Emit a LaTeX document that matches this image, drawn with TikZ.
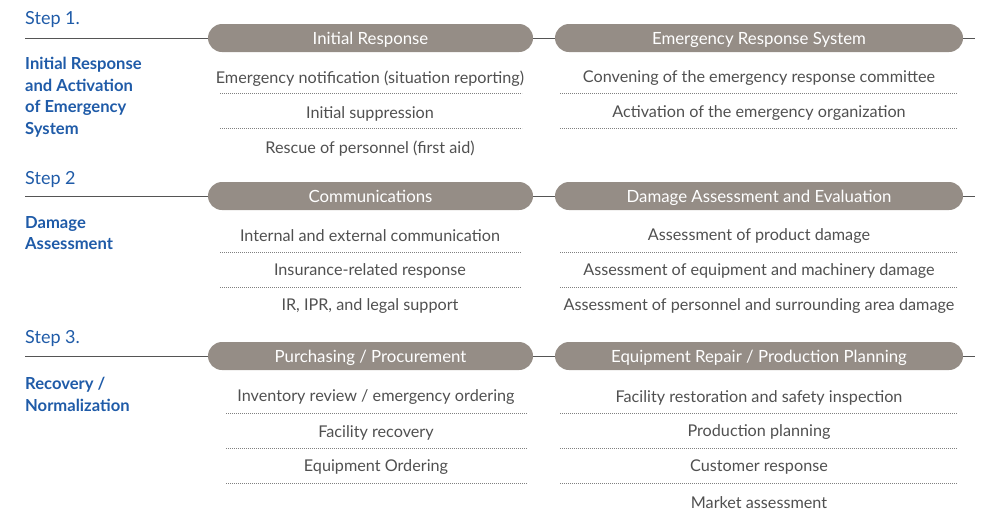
\documentclass[tikz,border=0pt]{standalone}
\usepackage{fontspec}
\setmainfont{Lato}
\usetikzlibrary{positioning}

\definecolor{stepblue}{HTML}{1F5BA8}
\definecolor{pillgray}{HTML}{958D86}
\definecolor{itemgray}{HTML}{505050}
\definecolor{rulegray}{HTML}{555555}

\tikzset{
  pill/.style={fill=pillgray, rounded corners=14pt, minimum height=28pt,
    inner sep=0pt, text=white, text height=12pt, text depth=0pt,
    font=\fontsize{16.8}{16.8}\selectfont},
  item/.style={text=itemgray, inner sep=0pt, font=\fontsize{16.2}{16.2}\selectfont},
  steptitle/.style={text=stepblue, anchor=west, inner sep=0pt,
    font=\fontsize{18}{18}\selectfont},
  stepnote/.style={text=stepblue, anchor=north west, inner sep=0pt, align=left,
    font=\bfseries\fontsize{16.6}{21.5}\selectfont},
  rule/.style={draw=rulegray, line width=1pt},
  sep/.style={draw=gray, line width=0.6pt, dash pattern=on 1.2pt off 0.8pt}
}

\begin{document}
\begin{tikzpicture}[x=1pt,y=-1pt]
  \useasboundingbox (0,0) rectangle (981,515);

  % step headings and notes
  \foreach \s/\y/\t in {1/19.5/Step 1., 2/179.5/Step 2, 3/338.5/Step 3.}
    \node[steptitle] (step\s) at (25,\y) {\t};
  \node[stepnote] (note1) at (25,57) {Initial Response\\and Activation\\of Emergency\\System};
  \node[stepnote] (note2) at (25,216) {Damage\\Assessment};
  \node[stepnote] (note3) at (25,377) {Recovery /\\Normalization};

  % pills
  \node[pill, minimum width=325pt] (init) at (370.5,38) {Initial Response};
  \node[pill, minimum width=408pt] (ers) at (759,38) {Emergency Response System};
  \node[pill, minimum width=325pt] (comm) at (370.5,196) {Communications};
  \node[pill, minimum width=408pt] (dmg) at (759,196) {Damage Assessment and Evaluation};
  \node[pill, minimum width=325pt] (purch) at (370.5,356) {Purchasing / Procurement};
  \node[pill, minimum width=408pt] (repair) at (759,356) {Equipment Repair / Production Planning};

  % rules through the pills
  \foreach \s/\y/\a/\b in {1/38/init/ers, 2/196/comm/dmg, 3/356/purch/repair}
  {
    \coordinate (start\s) at (25,\y);
    \coordinate (end\s) at (975,\y);
    \draw[rule] (start\s) -- (\a) -- (\b) -- (end\s);
  }

  % step 1 items
  \foreach \t [count=\i] in {Emergency notification (situation reporting),
      Initial suppression, Rescue of personnel (first aid)}
    \node[item] (init\i) at (370,43.5+35*\i) {\t};
  \foreach \t [count=\i] in {Convening of the emergency response committee,
      Activation of the emergency organization}
    \node[item] (ers\i) at (759,43.5+35*\i) {\t};
  \foreach \y in {93,128} {
    \draw[sep] (220,\y) -- (522,\y);
    \draw[sep] (560,\y) -- (957,\y);
  }

  % step 2 items
  \foreach \t [count=\i] in {Internal and external communication,
      Insurance-related response, {IR, IPR, and legal support}}
    \node[item] (comm\i) at (370,201+35*\i) {\t};
  \foreach \t [count=\i] in {Assessment of product damage,
      Assessment of equipment and machinery damage,
      Assessment of personnel and surrounding area damage}
    \node[item] (dmg\i) at (759,201+35*\i) {\t};
  \foreach \y in {252,287} {
    \draw[sep] (220,\y) -- (521,\y);
    \draw[sep] (560,\y) -- (957,\y);
  }

  % step 3 items
  \foreach \t [count=\i] in {Inventory review / emergency ordering,
      Facility recovery, Equipment Ordering}
    \node[item] (purch\i) at (376,362.5+35*\i) {\t};
  \foreach \t [count=\i] in {Facility restoration and safety inspection,
      Production planning, Customer response, Market assessment}
    \node[item] (repair\i) at (759,362.5+35*\i) {\t};
  \foreach \y in {413,448,483} {
    \draw[sep] (226,\y) -- (527,\y);
    \draw[sep] (560,\y) -- (957,\y);
  }
\end{tikzpicture}
\end{document}
